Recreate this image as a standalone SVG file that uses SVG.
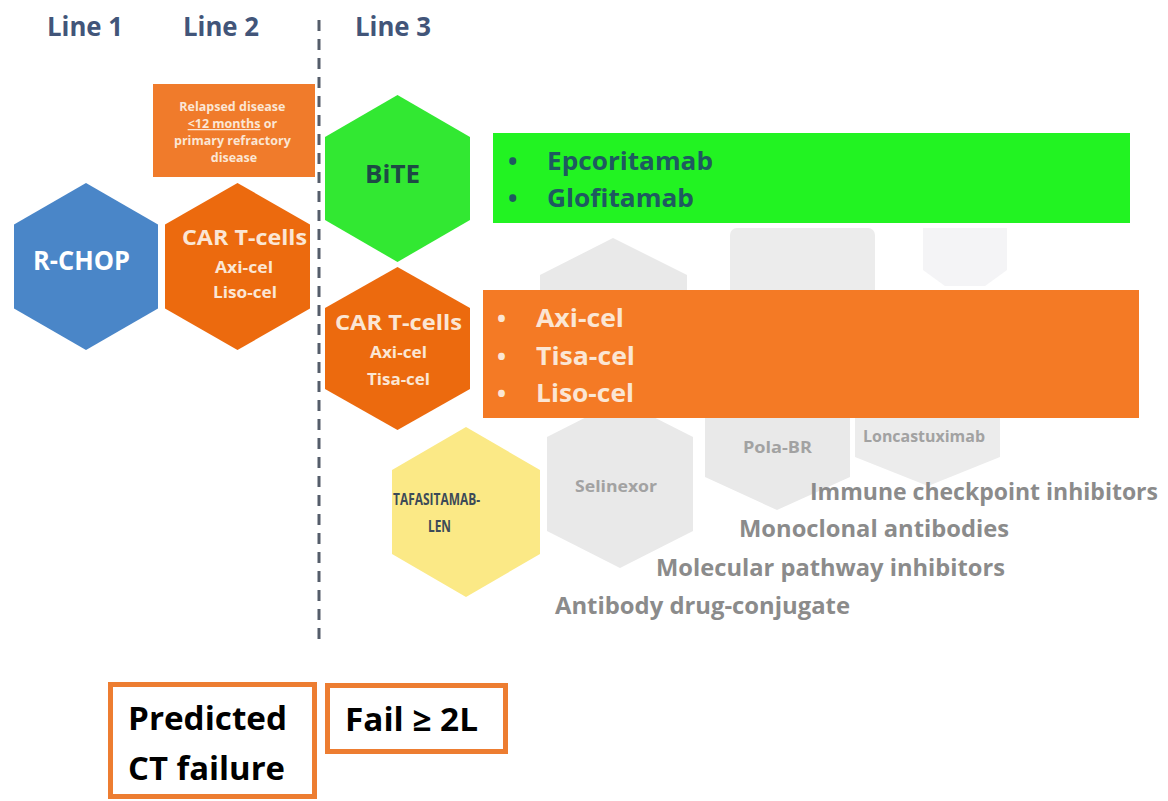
<svg xmlns="http://www.w3.org/2000/svg" width="1168" height="801" viewBox="0 0 1168 801">
<style>
text{font-family:"Open Sans","Liberation Sans",sans-serif;font-weight:bold}
.hdr{fill:#425579;font-size:26px}
.wt{fill:#ffffff}
.wt2{fill:#fbe6d4}
.gh{fill:#e9e9e9}
.gs{fill:#a2a2a2;font-size:16px}
.gb{fill:#8b8b8b;font-size:24px}
.blk{fill:#000000;font-size:32px}
.ob{fill:none;stroke:#ed7d31;stroke-width:5}
</style>
<rect width="1168" height="801" fill="#ffffff"/>

<g id="headers">
<text class="hdr" x="47" y="36" textLength="76" lengthAdjust="spacingAndGlyphs">Line 1</text>
<text class="hdr" x="183" y="36" textLength="76" lengthAdjust="spacingAndGlyphs">Line 2</text>
<text class="hdr" x="355" y="36" textLength="76" lengthAdjust="spacingAndGlyphs">Line 3</text>
</g>

<g id="divider">
<line x1="319" y1="20" x2="319" y2="640" stroke="#555d6a" stroke-width="3" stroke-dasharray="11 8"/>
</g>

<g id="background-hexes">
<polygon class="gh" points="613,238 687,275 687,300 540,300 540,275"/>
<rect x="730" y="228" width="145" height="70" rx="7" fill="#ececec"/>
<polygon points="923,228 1007,228 1007,270 985,286 945,286 923,270" fill="#f4f4f6"/>
<polygon class="gh" points="620,400 693,437 693,531 620,568 547,531 547,437"/>
<polygon class="gh" points="777,300 850,337 850,477 777,510 705,477 705,337"/>
<polygon fill="#ececec" points="928,300 1000,337 1000,457 928,486 855,457 855,337"/>
</g>

<g id="rchop">
<polygon fill="#4a86c8" points="86,183 158,224.5 158,308.5 86,350 14,308.5 14,224.5"/>
<text class="wt" x="33" y="270" font-size="26" textLength="97" lengthAdjust="spacingAndGlyphs">R-CHOP</text>
</g>

<g id="relapsed">
<rect x="153" y="84" width="162" height="93" fill="#f07b2b"/>
<text class="wt2" font-size="12.5" text-anchor="middle">
<tspan x="234" y="111">Relapsed disease</tspan>
<tspan x="234" y="128"><tspan text-decoration="underline">&lt;12 months</tspan> or</tspan>
<tspan x="234" y="145">primary refractory</tspan>
<tspan x="234" y="162">disease</tspan>
</text>
</g>

<g id="cart-line2">
<polygon fill="#ec6a0e" points="237.5,183 310,224.5 310,308.5 237.5,350 165,308.5 165,224.5"/>
<text class="wt2" x="182" y="245" font-size="22" textLength="125" lengthAdjust="spacingAndGlyphs">CAR T-cells</text>
<text class="wt2" x="215" y="273" font-size="16" textLength="58" lengthAdjust="spacingAndGlyphs">Axi-cel</text>
<text class="wt2" x="213" y="298" font-size="16" textLength="64" lengthAdjust="spacingAndGlyphs">Liso-cel</text>
</g>

<g id="bite">
<polygon fill="#32e832" points="397.5,95 470,137 470,220 397.5,262 325,220 325,137"/>
<text x="365" y="183" font-size="25" fill="#1d4a44" textLength="55" lengthAdjust="spacingAndGlyphs">BiTE</text>
</g>

<g id="bite-list">
<rect x="493" y="133" width="637" height="90" fill="#22f322"/>
<text font-size="25" fill="#1e5a60">
<tspan x="508" y="170">•</tspan>
<tspan x="508" y="207">•</tspan>
</text>
<text x="547" y="170" font-size="25" fill="#1e5a60" textLength="166" lengthAdjust="spacingAndGlyphs">Epcoritamab</text>
<text x="547" y="207" font-size="25" fill="#1e5a60" textLength="147" lengthAdjust="spacingAndGlyphs">Glofitamab</text>
</g>

<g id="cart-line3">
<polygon fill="#ec6a0e" points="397.5,267 470,308 470,389 397.5,430 325,389 325,308"/>
<text class="wt2" x="335" y="330" font-size="22" textLength="127" lengthAdjust="spacingAndGlyphs">CAR T-cells</text>
<text class="wt2" x="370" y="358" font-size="16" textLength="57" lengthAdjust="spacingAndGlyphs">Axi-cel</text>
<text class="wt2" x="367" y="385" font-size="16" textLength="63" lengthAdjust="spacingAndGlyphs">Tisa-cel</text>
</g>

<g id="cart-list">
<rect x="483" y="290" width="656" height="128" fill="#f47a25"/>
<text class="wt2" font-size="24">
<tspan x="497" y="327">•</tspan>
<tspan x="497" y="365">•</tspan>
<tspan x="497" y="402">•</tspan>
</text>
<text class="wt2" x="536" y="327" font-size="25" textLength="88" lengthAdjust="spacingAndGlyphs">Axi-cel</text>
<text class="wt2" x="536" y="365" font-size="25" textLength="99" lengthAdjust="spacingAndGlyphs">Tisa-cel</text>
<text class="wt2" x="536" y="402" font-size="25" textLength="98" lengthAdjust="spacingAndGlyphs">Liso-cel</text>
</g>

<g id="tafasitamab">
<polygon fill="#fbe986" points="466,427 540,470 540,554 466,597 392,554 392,470"/>
<text x="393" y="505" font-size="16" fill="#3c4a58" textLength="87" lengthAdjust="spacingAndGlyphs">TAFASITAMAB-</text>
<text x="428" y="532" font-size="16" fill="#3c4a58" textLength="23" lengthAdjust="spacingAndGlyphs">LEN</text>
</g>

<g id="gray-labels">
<text class="gs" x="575" y="492" textLength="82" lengthAdjust="spacingAndGlyphs">Selinexor</text>
<text class="gs" x="743" y="453" textLength="69" lengthAdjust="spacingAndGlyphs">Pola-BR</text>
<text class="gs" x="863" y="442" textLength="122" lengthAdjust="spacingAndGlyphs">Loncastuximab</text>
<text class="gb" x="810" y="500" textLength="348" lengthAdjust="spacingAndGlyphs">Immune checkpoint inhibitors</text>
<text class="gb" x="739" y="537" textLength="270" lengthAdjust="spacingAndGlyphs">Monoclonal antibodies</text>
<text class="gb" x="656" y="576" textLength="349" lengthAdjust="spacingAndGlyphs">Molecular pathway inhibitors</text>
<text class="gb" x="555" y="614" textLength="295" lengthAdjust="spacingAndGlyphs">Antibody drug-conjugate</text>
</g>

<g id="predicted-ct-failure">
<rect class="ob" x="110.5" y="684.5" width="204" height="112"/>
<text class="blk" x="128" y="730" textLength="159" lengthAdjust="spacingAndGlyphs">Predicted</text>
<text class="blk" x="128" y="780" textLength="157" lengthAdjust="spacingAndGlyphs">CT failure</text>
</g>

<g id="fail-2l">
<rect class="ob" x="327.5" y="685.5" width="178" height="66"/>
<text class="blk" x="345" y="731" textLength="133" lengthAdjust="spacingAndGlyphs">Fail ≥ 2L</text>
</g>
</svg>
